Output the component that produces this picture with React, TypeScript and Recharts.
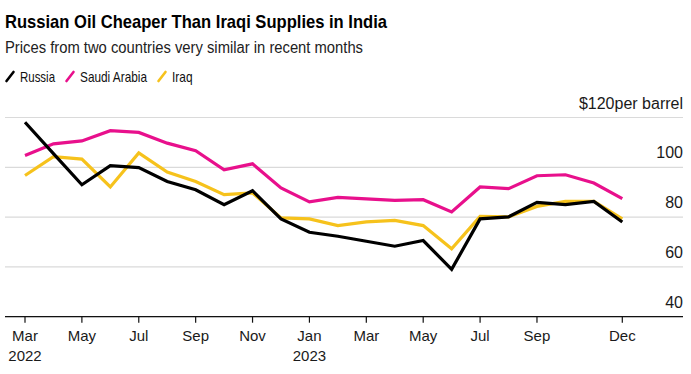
import React from 'react';
import { LineChart, Line, XAxis, YAxis, CartesianGrid } from 'recharts';

const months = [
  '2022-03', '2022-04', '2022-05', '2022-06', '2022-07', '2022-08', '2022-09', '2022-10', '2022-11', '2022-12',
  '2023-01', '2023-02', '2023-03', '2023-04', '2023-05', '2023-06', '2023-07', '2023-08', '2023-09', '2023-10', '2023-11', '2023-12',
];
const russia = [118.1, 105.5, 93, 100.7, 99.9, 94.3, 91, 85, 90.6, 79.3, 73.9, 72.3, 70.3, 68.3, 70.6, 59, 79.3, 80.1, 85.9, 85, 86.3, 78];
const saudiArabia = [104.7, 109.4, 110.6, 114.7, 114, 109.7, 106.7, 99, 101.4, 91.7, 86.1, 87.9, 87.3, 86.7, 87, 82.1, 92.1, 91.4, 96.6, 97, 93.7, 87.4];
const iraq = [96.7, 104.3, 103.3, 92.1, 105.8, 98.1, 94.3, 89, 89.7, 79.7, 79.3, 76.6, 78.1, 78.7, 76.6, 67.3, 80.3, 80.1, 84.3, 86.3, 86.3, 79.3];

const xTicks = ['2022-03', '2022-05', '2022-07', '2022-09', '2022-11', '2023-01', '2023-03', '2023-05', '2023-07', '2023-09', '2023-12'];
const yearLabelTicks = ['2022-03', '2023-01'];
const yTicks = [40, 60, 80, 100, 120];
const monthNames = ['Jan', 'Feb', 'Mar', 'Apr', 'May', 'Jun', 'Jul', 'Aug', 'Sep', 'Oct', 'Nov', 'Dec'];

const title = 'Russian Oil Cheaper Than Iraqi Supplies in India';
const subtitle = 'Prices from two countries very similar in recent months';
const seriesNames = ['Russia', 'Saudi Arabia', 'Iraq'];

const COLORS = { russia: '#000000', saudi: '#e8108c', iraq: '#f6c21c' };
const FONT = '"Liberation Sans", Arial, Helvetica, sans-serif';

const data = months.map((m, i) => ({
  month: m,
  russia: russia[i],
  saudi: saudiArabia[i],
  iraq: iraq[i],
}));

const XTick = (props: any) => {
  const { x, y, payload } = props;
  const key: string = payload.value;
  const [yr, mo] = key.split('-');
  const name = monthNames[parseInt(mo, 10) - 1];
  return (
    <g>
      <text x={x} y={y + 18} textAnchor="middle" fontFamily={FONT} fontSize={15} fill="#1a1a1a">
        {name}
      </text>
      {yearLabelTicks.includes(key) && (
        <text x={x} y={y + 38} textAnchor="middle" fontFamily={FONT} fontSize={15} fill="#1a1a1a">
          {yr}
        </text>
      )}
    </g>
  );
};

const YTick = (props: any) => {
  const { x, y, payload } = props;
  const v = payload.value;
  const label = v === yTicks[yTicks.length - 1] ? `$${v}per barrel` : `${v}`;
  return (
    <text x={x} y={y - 9} textAnchor="end" fontFamily={FONT} fontSize={16} fill="#1a1a1a">
      {label}
    </text>
  );
};

const legendItems = [
  { name: seriesNames[0], color: COLORS.russia, slashX: 5, textX: 20, textW: 35 },
  { name: seriesNames[1], color: COLORS.saudi, slashX: 65, textX: 80, textW: 67 },
  { name: seriesNames[2], color: COLORS.iraq, slashX: 157, textX: 172, textW: 20.5 },
];

export default function App() {
  return (
    <div style={{ position: 'absolute', left: 0, top: 0, width: 691, height: 374, background: '#fff' }}>
      <svg width={691} height={100} style={{ position: 'absolute', left: 0, top: 0 }}>
        <text x={5} y={27.5} fontFamily={FONT} fontWeight={700} fontSize={19} fill="#000" textLength={382} lengthAdjust="spacingAndGlyphs">
          {title}
        </text>
        <text x={5} y={53.3} fontFamily={FONT} fontSize={16} fill="#222" textLength={358} lengthAdjust="spacingAndGlyphs">
          {subtitle}
        </text>
        {legendItems.map((it) => (
          <g key={it.name}>
            <line x1={it.slashX + 1.5} y1={81} x2={it.slashX + 8.5} y2={72} stroke={it.color} strokeWidth={2.6} strokeLinecap="round" />
            <text x={it.textX} y={81.7} fontFamily={FONT} fontSize={14.5} fill="#111" textLength={it.textW} lengthAdjust="spacingAndGlyphs">
              {it.name}
            </text>
          </g>
        ))}
      </svg>
      <div style={{ position: 'absolute', left: 0, top: 0 }}>
        <LineChart width={691} height={374} data={data} margin={{ top: 117.5, right: 0, bottom: 7.3, left: 5 }}>
          <CartesianGrid vertical={false} stroke="#dadada" strokeWidth={1.2} />
          <XAxis
            dataKey="month"
            ticks={xTicks}
            interval={0}
            height={50}
            padding={{ left: 20, right: 60.7 }}
            axisLine={{ stroke: '#111', strokeWidth: 1.2 }}
            tickLine={{ stroke: '#111', strokeWidth: 1.2 }}
            tickSize={6}
            tickMargin={0}
            tick={<XTick />}
          />
          <YAxis
            orientation="right"
            width={8}
            domain={[40, 120]}
            ticks={yTicks}
            interval={0}
            axisLine={false}
            tickLine={false}
            tickSize={0}
            tickMargin={0}
            tick={<YTick />}
          />
          <Line dataKey="saudi" stroke={COLORS.saudi} strokeWidth={3.2} dot={false} isAnimationActive={false} />
          <Line dataKey="iraq" stroke={COLORS.iraq} strokeWidth={3.2} dot={false} isAnimationActive={false} />
          <Line dataKey="russia" stroke={COLORS.russia} strokeWidth={3.2} dot={false} isAnimationActive={false} />
        </LineChart>
      </div>
    </div>
  );
}
